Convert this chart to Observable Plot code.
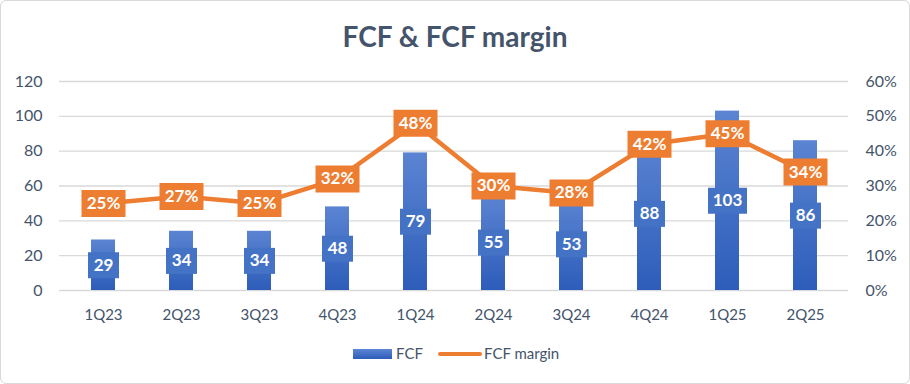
<!DOCTYPE html>
<html><head><meta charset="utf-8">
<script src="https://cdn.jsdelivr.net/npm/d3@7"></script>
<script src="https://cdn.jsdelivr.net/npm/@observablehq/plot@0.6"></script>
<style>
body{margin:0;background:#fff;}
#wrap{position:relative;width:910px;height:384px;font-family:Lato,"Open Sans",sans-serif;color:#44546A;overflow:hidden;}
#border{position:absolute;left:0;top:0;width:910px;height:384px;box-sizing:border-box;border:1px solid #d9d9d9;border-radius:6px;pointer-events:none;}
#title{position:absolute;top:19px;left:0;width:910px;text-align:center;font-weight:bold;font-size:28px;line-height:34px;color:#44546A;}
#chart{position:absolute;top:60px;left:0;}
#legend{position:absolute;top:343px;left:0;width:910px;height:20px;font-size:15px;color:#44546A;}
.sw{position:absolute;}
</style></head>
<body>
<div id="wrap">
  <div id="title">FCF &amp; FCF margin</div>
  <div id="chart"></div>
  <div id="legend">
    <div class="sw" style="left:353px;top:6px;width:39px;height:10px;background:linear-gradient(#5B84D2,#2D5DBA);"></div>
    <div class="sw" style="left:396px;top:0;line-height:20px;">FCF</div>
    <div class="sw" style="left:438px;top:9px;width:44px;height:4px;border-radius:2px;background:#ED7D31;"></div>
    <div class="sw" style="left:484px;top:0;line-height:20px;">FCF margin</div>
  </div>
  <div id="border"></div>
</div>
<script>
const quarters = ["1Q23","2Q23","3Q23","4Q23","1Q24","2Q24","3Q24","4Q24","1Q25","2Q25"];
const fcf = [29,34,34,48,79,55,53,88,103,86];
const fcfMargin = [25,27,25,32,48,30,28,42,45,34];
const leftTicks = [0,20,40,60,80,100,120];
const rightTickLabels = ["0%","10%","20%","30%","40%","50%","60%"];

const data = quarters.map((q,i)=>({q, fcf:fcf[i], margin:fcfMargin[i]}));

function rectSym(w,h){ return {draw(ctx){ ctx.rect(-w/2,-h/2,w,h); }}; }

const defs = () => {
  const ns = "http://www.w3.org/2000/svg";
  const d = document.createElementNS(ns,"defs");
  d.innerHTML = '<linearGradient id="fcfGrad" x1="0" y1="0" x2="0" y2="1"><stop offset="0" stop-color="#5B84D2"/><stop offset="1" stop-color="#2D5DBA"/></linearGradient>';
  return d;
};

const chart = Plot.plot({
  width: 910, height: 270,
  marginTop: 21, marginBottom: 40, marginLeft: 59, marginRight: 62,
  style: {fontFamily: "Lato, 'Open Sans', sans-serif", fontSize: "16px", color: "#44546A", background: "transparent"},
  x: {domain: quarters, padding: 0, label: null},
  y: {domain: [0,120], label: null},
  marks: [
    defs,
    Plot.ruleY(leftTicks, {stroke: "#d9d9d9", strokeWidth: 1.3}),
    Plot.axisY(leftTicks, {anchor: "left", tickSize: 0, tickPadding: 17, label: null, fontSize: 16, fill: "#44546A"}),
    Plot.axisY(leftTicks, {anchor: "right", tickSize: 0, tickPadding: 17, label: null, fontSize: 16, fill: "#44546A",
      textAnchor: "start", tickFormat: d => rightTickLabels[leftTicks.indexOf(d)]}),
    Plot.axisX({tickSize: 0, tickPadding: 19, label: null, fontSize: 15, fill: "#44546A"}),
    Plot.barY(data, {x: "q", y: "fcf", fill: "url(#fcfGrad)", insetLeft: 27, insetRight: 27}),
    Plot.dot(data.filter(d => d.fcf < 100), {x: "q", y: d => d.fcf/2, symbol: rectSym(31,26), r: 10, fill: "#4472C4", stroke: null}),
    Plot.dot(data.filter(d => d.fcf >= 100), {x: "q", y: d => d.fcf/2, symbol: rectSym(39,26), r: 10, fill: "#4472C4", stroke: null}),
    Plot.text(data, {x: "q", y: d => d.fcf/2, text: d => String(d.fcf), fill: "white", fontWeight: "bold", fontSize: 17}),
    Plot.line(data, {x: "q", y: d => d.margin*2, stroke: "#ED7D31", strokeWidth: 4.5}),
    Plot.dot(data, {x: "q", y: d => d.margin*2, symbol: rectSym(44,27), r: 10, fill: "#ED7D31", stroke: null}),
    Plot.text(data, {x: "q", y: d => d.margin*2, text: d => d.margin + "%", fill: "white", fontWeight: "bold", fontSize: 17})
  ]
});
document.getElementById("chart").appendChild(chart);
</script>
</body></html>
